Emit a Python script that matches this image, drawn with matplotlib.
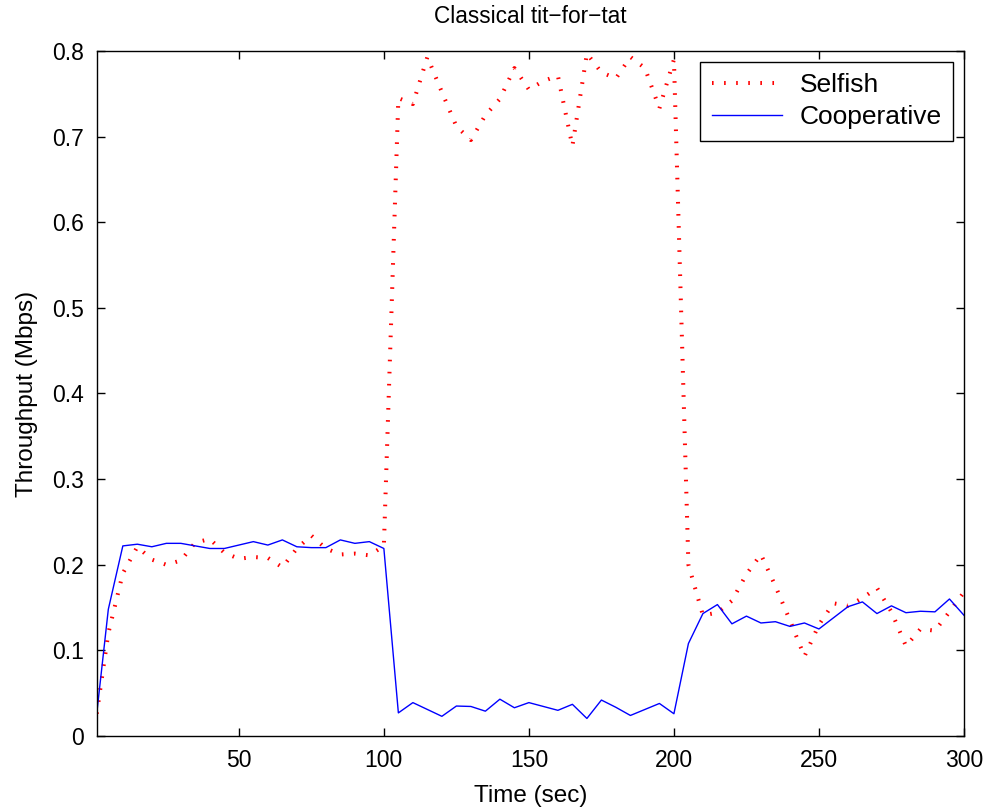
import matplotlib
matplotlib.use("Agg")
import matplotlib.pyplot as plt

plt.rcParams['font.family'] = ['Liberation Sans', 'DejaVu Sans']

# time axis (sec), samples every 5 s
time_sec = [1] + list(range(5, 301, 5))

selfish = [0.026, 0.120, 0.190, 0.221, 0.206, 0.200, 0.205, 0.226, 0.230, 0.214,
           0.207, 0.209, 0.208, 0.197, 0.219, 0.234, 0.219, 0.212, 0.213, 0.211,
           0.222,
           0.745, 0.738, 0.793, 0.752, 0.712, 0.696, 0.725, 0.744, 0.780, 0.755,
           0.765, 0.771, 0.689, 0.797, 0.775, 0.768, 0.793, 0.780, 0.733, 0.790,
           0.200, 0.141, 0.144, 0.158, 0.189, 0.212, 0.175, 0.135, 0.093, 0.130,
           0.155, 0.152, 0.161, 0.173, 0.145, 0.105, 0.125, 0.123, 0.145, 0.168]

cooperative = [0.026, 0.148, 0.222, 0.224, 0.221, 0.225, 0.225, 0.222, 0.219, 0.219,
               0.223, 0.227, 0.223, 0.229, 0.221, 0.220, 0.220, 0.229, 0.225, 0.227,
               0.219,
               0.027, 0.039, 0.031, 0.023, 0.035, 0.0345, 0.029, 0.043, 0.033, 0.039,
               0.0345, 0.030, 0.037, 0.0205, 0.042, 0.0335, 0.024, 0.031, 0.038, 0.026,
               0.108, 0.143, 0.1535, 0.131, 0.140, 0.132, 0.1335, 0.128, 0.132, 0.125,
               0.138, 0.151, 0.1566, 0.143, 0.152, 0.144, 0.1457, 0.145, 0.160, 0.141]

x_ticks = [50, 100, 150, 200, 250, 300]
y_ticks = [0, 0.1, 0.2, 0.3, 0.4, 0.5, 0.6, 0.7, 0.8]
y_labels = ["0", "0.1", "0.2", "0.3", "0.4", "0.5", "0.6", "0.7", "0.8"]

fig = plt.figure(figsize=(9.9, 8.08), dpi=100)
ax = fig.add_axes([0.0977, 0.0891, 0.876, 0.8478])

ax.plot(time_sec, selfish, color=(1, 0, 0), linewidth=2.9,
        linestyle=(0, (0.4, 2.6)), dash_capstyle='butt', label="Selfish")
ax.plot(time_sec, cooperative, color=(0, 0, 1), linewidth=1.0, label="Cooperative")

ax.set_xlim(1, 300)
ax.set_ylim(0, 0.8)
ax.set_xticks(x_ticks)
ax.set_yticks(y_ticks)
ax.set_yticklabels(y_labels)
ax.tick_params(direction='in', length=6, width=1, top=True, right=True,
               labelsize=16.5, pad=9)
for sp in ax.spines.values():
    sp.set_linewidth(1.0)

ax.set_title("Classical tit\u2212for\u2212tat", fontsize=16.3, pad=20)
ax.set_xlabel("Time (sec)", fontsize=17.5, labelpad=10)
ax.set_ylabel("Throughput (Mbps)", fontsize=17.5, labelpad=10)

leg = ax.legend(loc='upper right', fontsize=19, fancybox=False,
                edgecolor='black', framealpha=1, borderaxespad=0.4,
                handlelength=2.65, handletextpad=0.65, borderpad=0.45,
                labelspacing=0.3)
leg.get_frame().set_linewidth(1.0)

fig.savefig("out.png", dpi=100)
